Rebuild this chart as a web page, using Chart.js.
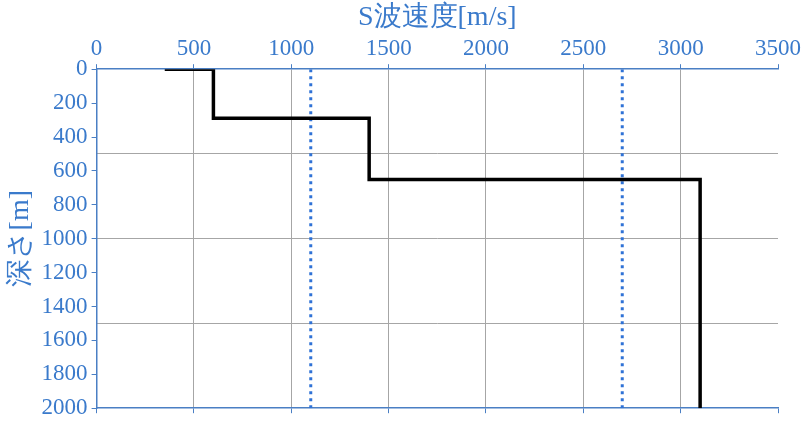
<!DOCTYPE html>
<html>
<head>
<meta charset="utf-8">
<script src="https://cdn.jsdelivr.net/npm/chart.js@4.4.0/dist/chart.umd.min.js"></script>
<style>
  html, body { margin: 0; padding: 0; background: #fff; }
  #wrap { width: 810px; height: 426px; }
</style>
</head>
<body>
<div id="wrap"><canvas id="mychart"></canvas></div>
<script>
// S-wave velocity profile (step model)
var stepVelocity = [350, 600, 600, 1400, 1400, 3100, 3100];
var stepDepth = [0, 0, 290, 290, 650, 650, 2000];
// reference (dotted) velocities
var refVelocity1 = [1100, 1100];
var refVelocity2 = [2700, 2700];
var refDepth = [0, 2000];

var xTitle = 'S波速度[m/s]';
var yTitle = '深さ[m]';

var blue = '#3a7acb';
var axisBlue = '#4a7fc4';
var gridGray = '#a6a6a6';
var fontFam = "'Liberation Serif', 'Times New Roman', serif";

function pts(xs, ys) {
  var out = [];
  for (var i = 0; i < xs.length; i++) out.push({ x: xs[i], y: ys[i] });
  return out;
}
function plain(v) { return String(v); }

var ctx = document.getElementById('mychart').getContext('2d');
var chart = new Chart(ctx, {
  type: 'scatter',
  data: {
    datasets: [{
      data: pts(stepVelocity, stepDepth),
      showLine: true,
      borderColor: '#000',
      borderWidth: 3.5,
      pointRadius: 0,
      xAxisID: 'x',
      yAxisID: 'y'
    }, {
      data: pts(refVelocity1, refDepth),
      showLine: true,
      borderColor: '#2f72d6',
      borderWidth: 3,
      borderDash: [3, 4],
      pointRadius: 0,
      xAxisID: 'x',
      yAxisID: 'y'
    }, {
      data: pts(refVelocity2, refDepth),
      showLine: true,
      borderColor: '#2f72d6',
      borderWidth: 3,
      borderDash: [3, 4],
      pointRadius: 0,
      xAxisID: 'x',
      yAxisID: 'y'
    }]
  },
  options: {
    responsive: true,
    maintainAspectRatio: false,
    animation: false,
    layout: { padding: { left: 4, right: 32, top: 1, bottom: 1 } },
    plugins: { legend: { display: false }, tooltip: { enabled: false } },
    scales: {
      x: {
        type: 'linear',
        position: 'top',
        min: 0, max: 3500,
        ticks: { stepSize: 500, color: blue, font: { family: fontFam, size: 23 }, padding: 1, callback: plain },
        grid: {
          color: function (c) { return (c.tick && (c.tick.value === 0 || c.tick.value === 3500)) ? 'rgba(0,0,0,0)' : gridGray; },
          tickColor: axisBlue, tickLength: 5, lineWidth: 1
        },
        border: { color: axisBlue, width: 1.5 },
        title: { display: true, text: xTitle, color: blue, font: { family: fontFam, size: 28 }, padding: { top: 0, bottom: 0 } }
      },
      x2: {
        type: 'linear',
        position: 'bottom',
        min: 0, max: 3500,
        ticks: { stepSize: 500, display: false },
        grid: { drawOnChartArea: false, tickColor: axisBlue, tickLength: 5 },
        border: { color: axisBlue, width: 1.5 }
      },
      y: {
        type: 'linear',
        position: 'left',
        reverse: true,
        min: 0, max: 2000,
        ticks: { stepSize: 200, color: blue, font: { family: fontFam, size: 23 }, padding: 4, callback: plain },
        grid: { drawOnChartArea: false, tickColor: axisBlue, tickLength: 5 },
        border: { color: axisBlue, width: 1.5 },
        title: { display: true, text: yTitle, color: blue, font: { family: fontFam, size: 28 }, padding: { top: 0, bottom: 0 } }
      },
      y2: {
        type: 'linear',
        position: 'right',
        reverse: true,
        min: 0, max: 2000,
        ticks: { stepSize: 500, display: false },
        grid: {
          drawTicks: false,
          color: function (c) { return (c.tick && (c.tick.value === 0 || c.tick.value === 2000)) ? 'rgba(0,0,0,0)' : gridGray; }
        },
        border: { display: false }
      }
    }
  }
});
</script>
</body>
</html>
